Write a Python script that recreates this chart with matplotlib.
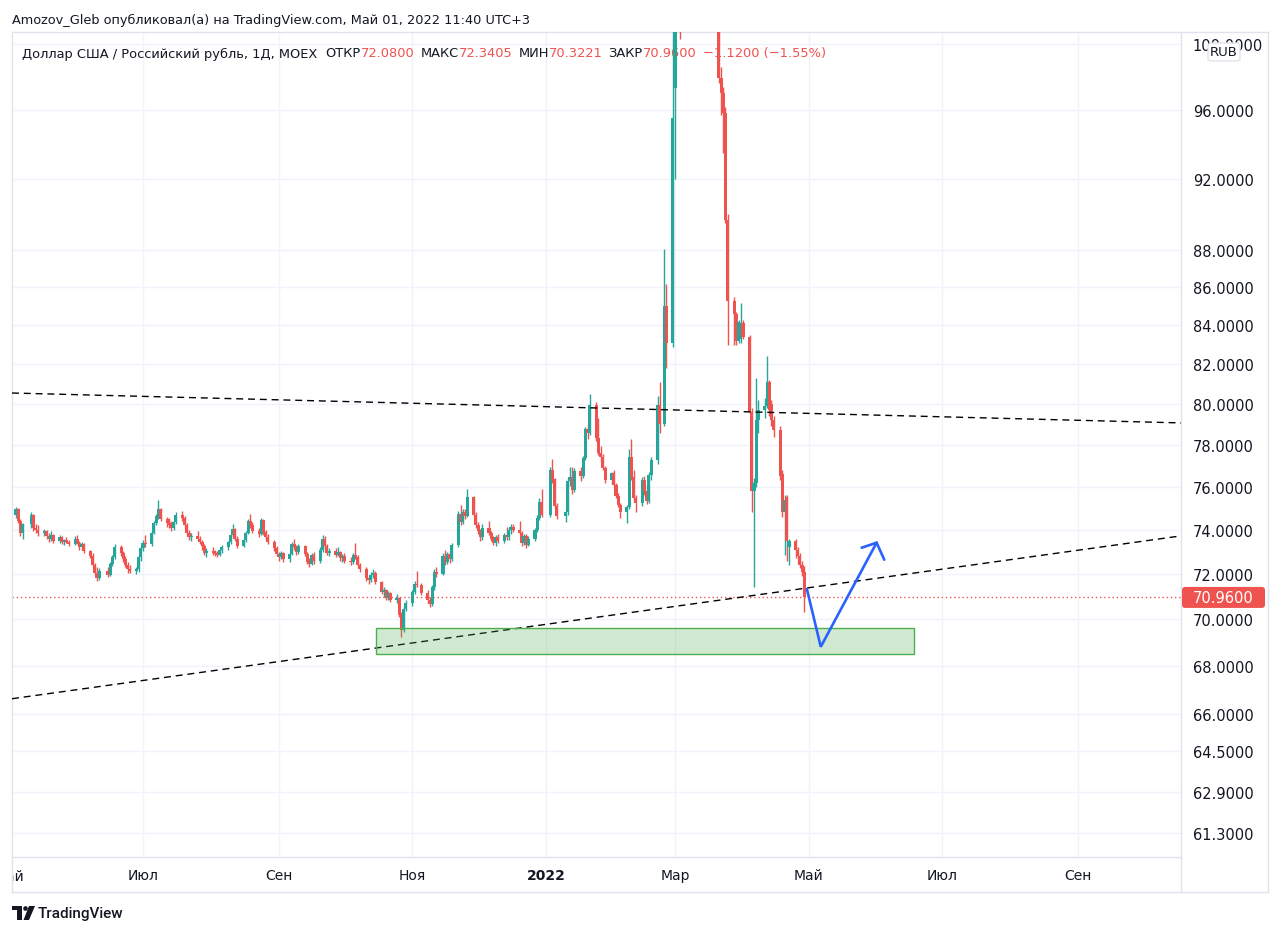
import numpy as np
import pandas as pd
import matplotlib
matplotlib.use("Agg")
import matplotlib.pyplot as plt
import matplotlib.dates as mdates
import matplotlib.transforms as mtransforms
from matplotlib.patches import Rectangle, FancyBboxPatch, Circle, Polygon
from matplotlib.lines import Line2D
from matplotlib.ticker import FixedLocator, NullLocator, FuncFormatter

# ===========================
# DATA: USD/RUB, 1D, MOEX
# ===========================
START, END = "2021-05-03", "2022-04-29"
HOLIDAYS = ["2021-05-03", "2021-05-10", "2021-06-14", "2021-11-04", "2021-12-31",
            "2022-01-07", "2022-02-23", "2022-03-07", "2022-03-08"]

OPEN = [
    74.70, 74.95, 74.40, 73.85,
    74.25, 74.70, 74.10, 74.00,
    73.85, 73.95, 73.70, 73.60, 73.75,
    73.50, 73.65, 73.45, 73.55, 73.45,
    73.35, 73.60, 73.40, 73.20, 73.35,
    73.05, 72.80, 72.40, 72.05, 71.80,
    72.15, 71.95, 72.45, 72.75,
    73.20, 72.95, 72.65, 72.40, 72.20,
    72.15, 72.20, 72.75, 73.15, 73.40,
    73.35, 73.85, 74.30, 74.65, 74.95,
    74.50, 74.30, 74.20, 74.10, 74.35,
    74.70, 74.55, 74.20, 73.85, 73.65,
    73.70, 73.60, 73.45, 73.25, 72.95,
    73.05, 72.95, 72.90, 72.85, 73.10,
    73.20, 73.45, 73.75, 74.05, 73.60,
    73.25, 73.55, 73.85, 74.40, 74.20,
    73.95, 73.80, 74.45, 73.90, 73.65,
    73.45, 73.15, 72.90, 72.75, 72.95,
    72.65, 72.90, 73.35, 73.20, 73.00,
    73.25, 72.90, 72.55, 72.45, 72.85,
    72.60, 73.10, 73.60, 73.25, 72.95,
    73.05, 72.85, 73.00, 72.70, 72.80,
    72.60, 72.55, 72.85, 72.75, 72.40,
    72.20, 71.80, 71.75, 71.95, 72.05,
    71.65, 71.20, 71.30, 70.95, 71.15,
    70.85, 70.95, 70.20, 69.55, 70.45,
    70.70, 71.20, 71.55, 71.50,
    71.15, 70.85, 70.65, 71.40, 72.10,
    72.00, 72.80, 72.55, 72.90, 72.65,
    73.30, 74.75, 74.35, 74.80, 74.65,
    75.50, 74.70, 74.20, 73.95, 73.65,
    74.10, 73.85, 73.60, 73.40, 73.65,
    73.50, 73.75, 73.65, 74.00, 74.15,
    74.00, 73.85, 73.40, 73.70, 73.30,
    73.60, 74.00, 74.55, 75.30,
    74.70, 76.80, 76.35, 75.10,
    74.65, 74.80, 76.25, 76.45, 75.85,
    76.75, 76.50, 77.35, 78.75, 78.60,
    79.95, 78.35, 77.60, 77.40, 76.90,
    76.30, 76.65, 76.10, 75.55, 75.15,
    74.80, 75.05, 77.40, 76.45, 75.45,
    75.25, 76.30, 75.80, 75.35, 76.55,
    77.25, 79.95, 79.00, 85.00,
    83.10, 97.30, 104.50, 107.00, 104.50,
    105.50, 120.00, 115.00,
    118.00, 113.50, 111.00, 108.00, 104.50,
    104.00, 97.90, 97.00, 95.80, 89.70,
    85.30, 84.60, 83.20, 83.30, 84.10,
    83.40, 79.60, 75.80, 76.20, 79.20,
    79.70, 79.90, 81.10, 80.00, 79.20,
    78.70, 76.60, 74.80, 75.50, 73.20,
    73.50, 73.10, 72.80, 72.40, 72.0800,
]

HIGH = [
    75.05, 75.00, 74.50, 74.30,
    74.80, 74.75, 74.25, 74.20,
    74.05, 74.00, 73.85, 73.95, 73.80,
    73.75, 73.70, 73.60, 73.65, 73.55,
    73.70, 73.75, 73.50, 73.45, 73.40,
    73.10, 72.95, 72.50, 72.30, 72.25,
    72.30, 72.55, 72.85, 73.35,
    73.30, 73.05, 72.80, 72.55, 72.40,
    72.30, 72.85, 73.25, 73.55, 73.75,
    73.95, 74.40, 74.75, 75.40, 75.00,
    74.60, 74.55, 74.40, 74.45, 74.80,
    74.85, 74.65, 74.30, 74.00, 73.85,
    73.95, 73.70, 73.55, 73.35, 73.15,
    73.20, 73.10, 73.05, 73.15, 73.30,
    73.50, 73.80, 74.25, 74.10, 73.70,
    73.60, 73.95, 74.50, 74.75, 74.35,
    74.10, 74.55, 74.50, 74.00, 73.80,
    73.55, 73.25, 73.00, 73.05, 73.00,
    73.00, 73.45, 73.60, 73.30, 73.35,
    73.30, 73.00, 72.70, 72.95, 73.00,
    73.20, 73.75, 73.70, 73.35, 73.15,
    73.15, 73.20, 73.05, 72.90, 72.95,
    72.75, 72.95, 73.40, 72.85, 72.50,
    72.30, 71.95, 72.10, 72.20, 72.15,
    71.70, 71.40, 71.35, 71.25, 71.20,
    71.10, 71.00, 70.30, 70.60, 70.85,
    71.30, 71.70, 72.15, 71.60,
    71.30, 71.00, 71.50, 72.20, 72.30,
    72.95, 73.10, 73.00, 73.05, 73.40,
    74.85, 75.15, 74.95, 74.95, 75.90,
    75.55, 74.80, 74.35, 74.05, 74.25,
    74.40, 73.95, 73.70, 73.75, 73.80,
    73.85, 74.15, 74.10, 74.25, 74.25,
    74.40, 73.95, 73.80, 73.80, 73.70,
    74.10, 74.70, 75.45, 75.90,
    76.95, 77.30, 76.40, 75.25,
    74.90, 76.40, 76.95, 76.95, 76.90,
    76.95, 77.45, 78.85, 78.95, 80.50,
    80.10, 79.30, 77.95, 77.55, 77.00,
    76.70, 76.80, 76.20, 75.70, 75.25,
    75.15, 77.80, 78.30, 76.80, 75.60,
    76.45, 76.50, 76.10, 76.70, 77.40,
    80.40, 81.10, 88.10, 86.20,
    103.00, 106.00, 111.00, 110.00, 107.00,
    121.00, 121.50, 120.50,
    118.50, 114.00, 111.50, 108.50, 106.00,
    104.50, 98.60, 97.40, 96.20, 90.00,
    85.50, 84.70, 84.30, 85.20, 84.30,
    83.50, 79.80, 76.40, 81.30, 80.20,
    80.30, 82.40, 81.20, 80.20, 79.40,
    78.90, 76.80, 75.60, 75.60, 73.60,
    73.60, 73.20, 72.95, 72.60, 72.3405,
]

LOW = [
    74.55, 74.30, 73.70, 73.60,
    74.10, 73.95, 73.85, 73.70,
    73.70, 73.60, 73.45, 73.50, 73.40,
    73.40, 73.35, 73.30, 73.40, 73.25,
    73.30, 73.35, 73.10, 73.10, 72.95,
    72.70, 72.30, 71.95, 71.70, 71.75,
    71.85, 71.90, 72.35, 72.65,
    72.80, 72.55, 72.30, 72.05, 72.05,
    72.00, 72.10, 72.60, 73.05, 73.20,
    73.25, 73.80, 74.20, 74.50, 74.40,
    74.15, 74.10, 73.95, 74.00, 74.25,
    74.40, 74.10, 73.70, 73.55, 73.50,
    73.50, 73.35, 73.10, 72.85, 72.75,
    72.85, 72.80, 72.75, 72.80, 72.95,
    73.10, 73.35, 73.65, 73.50, 73.15,
    73.20, 73.45, 73.80, 74.10, 73.85,
    73.65, 73.75, 73.75, 73.55, 73.35,
    73.05, 72.80, 72.60, 72.65, 72.55,
    72.55, 72.85, 73.10, 72.85, 72.90,
    72.80, 72.45, 72.30, 72.40, 72.45,
    72.50, 73.00, 73.15, 72.85, 72.80,
    72.75, 72.80, 72.60, 72.55, 72.50,
    72.40, 72.45, 72.65, 72.30, 72.10,
    71.70, 71.55, 71.65, 71.80, 71.55,
    71.10, 71.00, 70.85, 70.85, 70.75,
    70.70, 70.10, 69.25, 69.45, 70.35,
    70.60, 71.10, 71.40, 71.05,
    70.70, 70.55, 70.60, 71.30, 71.85,
    71.95, 72.40, 72.45, 72.50, 72.60,
    73.20, 74.20, 74.25, 74.50, 74.60,
    74.60, 74.10, 73.80, 73.50, 73.55,
    73.75, 73.50, 73.30, 73.25, 73.40,
    73.40, 73.55, 73.55, 73.80, 73.90,
    73.75, 73.25, 73.30, 73.15, 73.25,
    73.50, 73.90, 74.45, 74.60,
    74.60, 76.20, 75.00, 74.50,
    74.35, 74.70, 76.05, 75.65, 75.75,
    76.25, 76.40, 77.25, 78.30, 78.50,
    78.20, 77.50, 77.20, 76.80, 76.20,
    76.15, 76.00, 75.45, 75.05, 74.55,
    74.30, 74.95, 76.30, 75.30, 74.80,
    75.10, 75.60, 75.20, 75.25, 76.30,
    77.10, 78.60, 78.90, 81.80,
    82.90, 92.00, 101.50, 100.30, 102.00,
    105.00, 113.00, 114.00,
    112.00, 110.00, 107.00, 103.00, 102.50,
    97.60, 95.70, 93.50, 89.50, 82.97,
    82.97, 83.00, 83.10, 83.10, 83.30,
    79.50, 74.80, 71.40, 76.00, 78.60,
    79.30, 79.80, 79.40, 78.90, 78.40,
    76.30, 74.60, 72.85, 72.60, 72.40,
    72.70, 72.50, 72.25, 71.90, 70.3221,
]

CLOSE = [
    74.95, 74.40, 73.85, 74.25,
    74.70, 74.10, 74.00, 73.85,
    73.95, 73.70, 73.60, 73.75, 73.50,
    73.65, 73.45, 73.55, 73.45, 73.35,
    73.60, 73.40, 73.20, 73.35, 73.05,
    72.80, 72.40, 72.05, 71.80, 72.15,
    71.95, 72.45, 72.75, 73.20,
    72.95, 72.65, 72.40, 72.20, 72.15,
    72.20, 72.75, 73.15, 73.40, 73.35,
    73.85, 74.30, 74.65, 74.95, 74.50,
    74.30, 74.20, 74.10, 74.35, 74.70,
    74.55, 74.20, 73.85, 73.65, 73.70,
    73.60, 73.45, 73.25, 72.95, 73.05,
    72.95, 72.90, 72.85, 73.10, 73.20,
    73.45, 73.75, 74.05, 73.60, 73.25,
    73.55, 73.85, 74.40, 74.20, 73.95,
    73.80, 74.45, 73.90, 73.65, 73.45,
    73.15, 72.90, 72.75, 72.95, 72.65,
    72.90, 73.35, 73.20, 73.00, 73.25,
    72.90, 72.55, 72.45, 72.85, 72.60,
    73.10, 73.60, 73.25, 72.95, 73.05,
    72.85, 73.00, 72.70, 72.80, 72.60,
    72.55, 72.85, 72.75, 72.40, 72.20,
    71.80, 71.75, 71.95, 72.05, 71.65,
    71.20, 71.30, 70.95, 71.15, 70.85,
    70.95, 70.20, 69.55, 70.45, 70.70,
    71.20, 71.55, 71.50, 71.15,
    70.85, 70.65, 71.40, 72.10, 72.00,
    72.80, 72.55, 72.90, 72.65, 73.30,
    74.75, 74.35, 74.80, 74.65, 75.50,
    74.70, 74.20, 73.95, 73.65, 74.10,
    73.85, 73.60, 73.40, 73.65, 73.50,
    73.75, 73.65, 74.00, 74.15, 74.00,
    73.85, 73.40, 73.70, 73.30, 73.60,
    74.00, 74.55, 75.30, 74.70,
    76.80, 76.35, 75.10, 74.65,
    74.80, 76.25, 76.45, 75.85, 76.75,
    76.50, 77.35, 78.75, 78.60, 79.95,
    78.35, 77.60, 77.40, 76.90, 76.30,
    76.65, 76.10, 75.55, 75.15, 74.80,
    75.05, 77.40, 76.45, 75.45, 75.25,
    76.30, 75.80, 75.35, 76.55, 77.25,
    79.95, 79.00, 85.00, 83.10,
    95.50, 104.50, 107.00, 104.50, 105.50,
    120.00, 115.00, 118.00,
    113.50, 111.00, 108.00, 104.50, 104.00,
    97.90, 97.00, 95.80, 89.70, 85.30,
    84.60, 83.20, 84.20, 84.10, 83.40,
    79.60, 75.80, 76.20, 79.20, 79.70,
    79.90, 81.10, 79.70, 79.20, 78.70,
    76.50, 74.80, 75.40, 73.50, 73.50,
    73.10, 72.80, 72.40, 72.08, 70.96,
]

PRICE_TICKS = [100, 96, 92, 88, 86, 84, 82, 80, 78, 76, 74, 72, 70, 68, 66, 64.5, 62.9, 61.3]
MONTH_TICKS = ["2021-07-01", "2021-09-01", "2021-11-01", "2022-01-01",
               "2022-03-01", "2022-05-01", "2022-07-01", "2022-09-01"]
MONTH_LABELS = ["Июл", "Сен", "Ноя", "2022", "Мар", "Май", "Июл", "Сен"]
FIRST_MONTH, FIRST_LABEL = "2021-05-01", "Май"

VIEW_DATES = ["2021-05-02 04:30", "2022-10-18 00:00"]
VIEW_PRICES = [60.41, 100.76]

# drawings on the chart
TREND_DATES = VIEW_DATES
UPPER_TREND = [80.55, 79.07]
LOWER_TREND = [66.64, 73.72]
ZONE_DATES = ["2021-10-15 12:00", "2022-06-18 00:00"]
ZONE_PRICES = [68.51, 69.62]
ARROW_DATES = ["2022-04-30 04:00", "2022-05-06 12:00", "2022-06-01 00:00"]
ARROW_PRICES = [71.33, 68.82, 73.41]
HEAD_DATES = ["2022-05-25 04:00", "2022-06-01 00:00", "2022-06-04 12:00"]
HEAD_PRICES = [73.18, 73.41, 72.64]

# ===========================
# STYLE
# ===========================
W, H = 1280, 937
UP, DOWN = "#26a69a", "#ef5350"
TXT = "#131722"
BORDER = "#e0e3eb"
GRID = "#f0f3fa"
BLUE = "#2962ff"
plt.rcParams["font.family"] = ["DejaVu Sans"]


def d2n(values):
    return mdates.date2num(pd.to_datetime(values).to_pydatetime())


fig = plt.figure(figsize=(W / 100, H / 100), dpi=100)
fig.patch.set_facecolor("white")
px = mtransforms.Affine2D().scale(1, -1).translate(0, H)   # top-left pixel coords

ax = fig.add_axes([12 / W, (H - 858) / H, (1181 - 12) / W, (858 - 33) / H])

# ===========================
# CANDLES
# ===========================
dates = pd.bdate_range(START, END)
dates = dates[~dates.isin(pd.to_datetime(HOLIDAYS))]
assert len(dates) == len(CLOSE) == len(OPEN) == len(HIGH) == len(LOW)

x = mdates.date2num(dates.to_pydatetime())
o, h, l, c = (np.array(v, dtype=float) for v in (OPEN, HIGH, LOW, CLOSE))
colors = np.where(c >= o, UP, DOWN)
ax.vlines(x, l, h, colors=colors, linewidth=1.0, zorder=3)
ax.bar(x, np.maximum(np.abs(c - o), 0.04), bottom=np.minimum(o, c), width=1.4,
       color=colors, linewidth=0, zorder=3)

# ===========================
# AXES
# ===========================
ax.set_yscale("log")
ax.set_xlim(*d2n(VIEW_DATES))
ax.set_ylim(*VIEW_PRICES)
ax.yaxis.set_major_locator(FixedLocator(PRICE_TICKS))
ax.yaxis.set_minor_locator(NullLocator())
ax.yaxis.set_major_formatter(FuncFormatter(lambda v, _: f"{v:.4f}"))
ax.yaxis.tick_right()
ax.tick_params(axis="y", length=0, pad=8.5, labelsize=10.5, labelcolor=TXT)

ax.set_xticks(d2n(MONTH_TICKS))
ax.set_xticklabels(MONTH_LABELS)
ax.tick_params(axis="x", length=0, pad=8, labelsize=10, labelcolor=TXT)
for lab in ax.get_xticklabels():
    if lab.get_text().isdigit():
        lab.set_fontweight("bold")

ax.grid(True, color=GRID, linewidth=1, zorder=0)
ax.set_axisbelow(True)
for sp in ax.spines.values():
    sp.set_color(BORDER)
    sp.set_linewidth(1)

# first month label, cut by the pane edge like in the snapshot
blend = mtransforms.blended_transform_factory(ax.transData, px)
first = ax.text(d2n([FIRST_MONTH])[0], 877, FIRST_LABEL, transform=blend, ha="center",
                va="center", fontsize=10, color=TXT, clip_on=True)
first.set_clip_box(mtransforms.TransformedBbox(mtransforms.Bbox([[12, 0], [W, H]]),
                                               mtransforms.IdentityTransform()))

# frame of price scale / time scale
for (x1, y1, x2, y2) in [(1181, 858, 1181, 893), (12, 858, 12, 893), (12, 893, 1268, 893),
                         (1268, 33, 1268, 893), (1181, 33, 1268, 33)]:
    fig.add_artist(Line2D([x1, x2], [y1, y2], transform=px, color=BORDER, linewidth=1))

# ===========================
# DRAWINGS
# ===========================
ax.plot(d2n(TREND_DATES), UPPER_TREND, color="black", linewidth=1.0, dashes=(5, 3.5), zorder=4)
ax.plot(d2n(TREND_DATES), LOWER_TREND, color="black", linewidth=1.0, dashes=(5, 3.5), zorder=4)

zx = d2n(ZONE_DATES)
ax.add_patch(Rectangle((zx[0], ZONE_PRICES[0]), zx[1] - zx[0], ZONE_PRICES[1] - ZONE_PRICES[0],
                       facecolor="#4caf50", alpha=0.26, edgecolor="none", zorder=4))
ax.add_patch(Rectangle((zx[0], ZONE_PRICES[0]), zx[1] - zx[0], ZONE_PRICES[1] - ZONE_PRICES[0],
                       facecolor="none", edgecolor="#4caf50", linewidth=1, zorder=4))

ax.plot(d2n(ARROW_DATES), ARROW_PRICES, color=BLUE, linewidth=1.9, zorder=6,
        solid_joinstyle="miter", solid_capstyle="round")
ax.plot(d2n(HEAD_DATES), HEAD_PRICES, color=BLUE, linewidth=1.9, zorder=6,
        solid_joinstyle="miter", solid_capstyle="round")

last = CLOSE[-1]
ax.axhline(last, color=DOWN, linewidth=1, dashes=(1, 2), zorder=2)

# last price label on the scale
y_last = H - ax.transData.transform((0, last))[1]
fig.add_artist(FancyBboxPatch((1182, y_last - 10.5), 83, 21, transform=px,
                              boxstyle="round,pad=0,rounding_size=3",
                              facecolor=DOWN, edgecolor="none"))
fig.text(1193, y_last, f"{last:.4f}", transform=px, ha="left", va="center",
         fontsize=10.5, color="white")

# currency badge
fig.add_artist(FancyBboxPatch((1208, 44), 32, 18, transform=px,
                              boxstyle="round,pad=0,rounding_size=3",
                              facecolor="white", edgecolor=BORDER, linewidth=1))
fig.text(1224, 53, "RUB", transform=px, ha="center", va="center", fontsize=9.5, color=TXT)

# ===========================
# TEXTS
# ===========================
fig.text(12, 20, "Amozov_Gleb опубликовал(а) на TradingView.com, Май 01, 2022 11:40 UTC+3",
         transform=px, ha="left", va="center", fontsize=9.3, color=TXT)

chg = CLOSE[-1] - CLOSE[-2]
pct = chg / CLOSE[-2] * 100
legend_parts = [
    ("Доллар США / Российский рубль, 1Д, MOEX", TXT, 8),
    ("ОТКР", TXT, 0), (f"{OPEN[-1]:.4f}", DOWN, 6),
    ("МАКС", TXT, 0), (f"{HIGH[-1]:.4f}", DOWN, 6),
    ("МИН", TXT, 0), (f"{LOW[-1]:.4f}", DOWN, 6),
    ("ЗАКР", TXT, 0), (f"{CLOSE[-1]:.4f}", DOWN, 6),
    (f"{chg:+.4f} ({pct:+.2f}%)".replace("-", "\u2212"), DOWN, 0),
]
renderer = fig.canvas.get_renderer()
cx = 22
for text, col, gap in legend_parts:
    t = ax.text(cx, 54, text, transform=px, ha="left", va="center", fontsize=9.4,
                color=col, zorder=1)
    cx += t.get_window_extent(renderer).width + gap

# TradingView logo
fig.add_artist(Rectangle((12, 907), 10, 4, transform=px, facecolor=TXT, edgecolor="none"))
fig.add_artist(Rectangle((17, 907), 5, 14, transform=px, facecolor=TXT, edgecolor="none"))
fig.add_artist(Circle((25.5, 909.5), 2.3, transform=px, facecolor=TXT, edgecolor="none"))
fig.add_artist(Polygon([(29, 907), (35, 907), (29, 921), (23.5, 921)], closed=True,
                       transform=px, facecolor=TXT, edgecolor="none"))
fig.text(38, 914, "TradingView", transform=px, ha="left", va="center", fontsize=11,
         color=TXT, family="Roboto", fontweight="medium")

fig.savefig("out.png", dpi=100, facecolor="white")
